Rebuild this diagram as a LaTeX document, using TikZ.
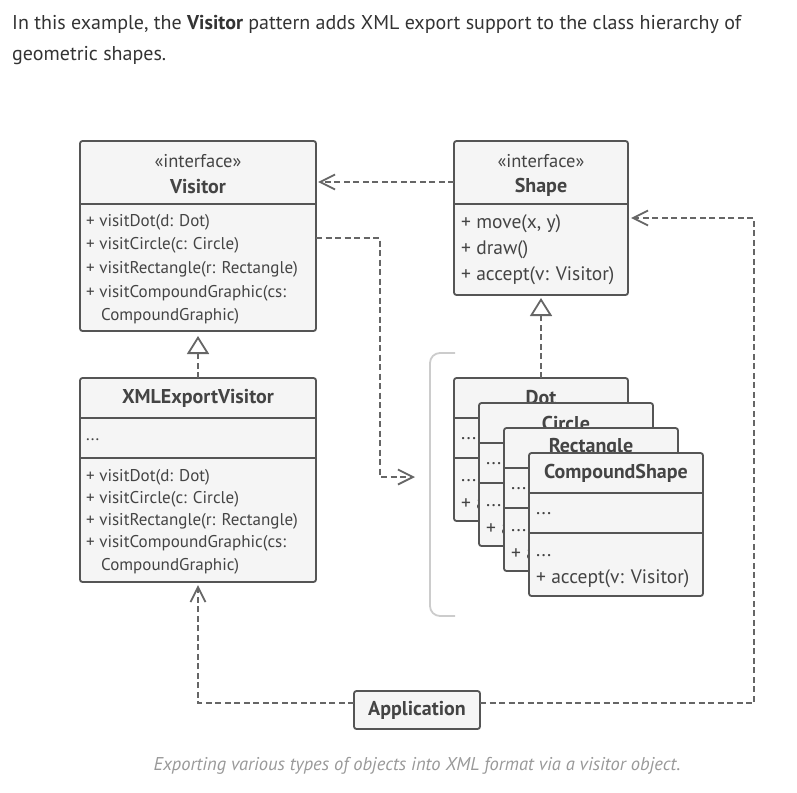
\documentclass[tikz,border=0pt]{standalone}
\usepackage{fontspec}
\setmainfont{PT Sans}
\usetikzlibrary{arrows.meta,calc}
\definecolor{bordc}{HTML}{555555}
\definecolor{fillc}{HTML}{F5F5F5}
\definecolor{txtc}{HTML}{444444}
\definecolor{linec}{HTML}{666666}
\definecolor{brackc}{HTML}{CCCCCC}
\definecolor{introc}{HTML}{333333}
\definecolor{capc}{HTML}{999999}
\tikzset{
 classbox/.style={draw=bordc, fill=fillc, line width=1.8pt, rounded corners=2.5pt, inner sep=0pt, outer sep=0pt, anchor=north west},
 divider/.style={draw=bordc, line width=1.8pt},
 member/.style={anchor=west, inner sep=0pt, text=txtc, font=\fontsize{17}{20}\selectfont},
 bigmember/.style={anchor=west, inner sep=0pt, text=txtc, font=\fontsize{19.5}{22}\selectfont},
 titletxt/.style={anchor=center, inner sep=0pt, text=txtc, font=\fontsize{20}{23}\selectfont\bfseries},
 stereo/.style={anchor=center, inner sep=0pt, text=txtc, font=\fontsize{18.5}{21}\selectfont},
 dep/.style={draw=linec, line width=1.8pt, dash pattern=on 6pt off 3.5pt, -{Straight Barb[length=15pt,width=15pt]}},
 realize/.style={draw=linec, line width=1.8pt, dash pattern=on 6pt off 3.5pt, -{Triangle[length=18pt,width=22pt,fill=white]}},
}
\newcommand\stackbox[5]{%
 \node[classbox, minimum width=174pt, minimum height=143pt] (#1) at (#2,#3) {};
 \draw[divider] ($(#1.north west)+(0,40)$) -- ($(#1.north east)+(0,40)$);
 \draw[divider] ($(#1.north west)+(0,80)$) -- ($(#1.north east)+(0,80)$);
 \node[titletxt] (#1t) at ($(#1.north)+(0,20)$) {#4};
 \node[bigmember] (#1a) at ($(#1.north west)+(7,61)$) {...};
 \node[bigmember] (#1b) at ($(#1.north west)+(7,103)$) {...};
 \node[bigmember] (#1c) at ($(#1.north west)+(7,126)$) {#5};
}
\begin{document}
\begin{tikzpicture}[x=1pt,y=-1pt]
\useasboundingbox (0,0) rectangle (797,792);
% intro text
\node[anchor=base west, inner sep=0pt, text=introc, font=\fontsize{20}{24}\selectfont] (intro1) at (12,30) {In this example, the \textbf{Visitor} pattern adds XML export support to the class hierarchy of};
\node[anchor=base west, inner sep=0pt, text=introc, font=\fontsize{20}{24}\selectfont] (intro2) at (12,60) {geometric shapes.};
% Visitor
\node[classbox, minimum width=236pt, minimum height=190pt] (visitor) at (80,141) {};
\draw[divider] ($(visitor.north west)+(0,63)$) -- ($(visitor.north east)+(0,63)$);
\node[stereo] (vst) at ($(visitor.north)+(0,20)$) {«interface»};
\node[titletxt] (vtt) at ($(visitor.north)+(0,46)$) {Visitor};
\node[member] (v1) at (86,222) {+ visitDot(d: Dot)};
\node[member] (v2) at (86,245) {+ visitCircle(c: Circle)};
\node[member] (v3) at (86,269) {+ visitRectangle(r: Rectangle)};
\node[member] (v4) at (86,293) {+ visitCompoundGraphic(cs:};
\node[member] (v5) at (101,316) {CompoundGraphic)};
% Shape
\node[classbox, minimum width=174pt, minimum height=154pt] (shape) at (454,141) {};
\draw[divider] ($(shape.north west)+(0,63)$) -- ($(shape.north east)+(0,63)$);
\node[stereo] (sst) at ($(shape.north)+(0,20)$) {«interface»};
\node[titletxt] (stt) at ($(shape.north)+(0,46)$) {Shape};
\node[bigmember] (s1) at (461,224) {+ move(x, y)};
\node[bigmember] (s2) at (461,250) {+ draw()};
\node[bigmember] (s3) at (461,276) {+ accept(v: Visitor)};
% XMLExportVisitor
\node[classbox, minimum width=236pt, minimum height=204pt] (xml) at (80,378) {};
\draw[divider] ($(xml.north west)+(0,40)$) -- ($(xml.north east)+(0,40)$);
\draw[divider] ($(xml.north west)+(0,80)$) -- ($(xml.north east)+(0,80)$);
\node[titletxt] (xtt) at ($(xml.north)+(0,20)$) {XMLExportVisitor};
\node[member] (x0) at (86,440) {...};
\node[member] (x1) at (86,477) {+ visitDot(d: Dot)};
\node[member] (x2) at (86,499) {+ visitCircle(c: Circle)};
\node[member] (x3) at (86,521) {+ visitRectangle(r: Rectangle)};
\node[member] (x4) at (86,543) {+ visitCompoundGraphic(cs:};
\node[member] (x5) at (101,566) {CompoundGraphic)};
% bracket
\draw[brackc, line width=1.8pt, rounded corners=10pt] (455,353) -- (430,353) -- (430,616) -- (455,616);
% stack
\stackbox{dot}{454}{378}{Dot}{+ a}
\stackbox{circle}{479}{403}{Circle}{+ a}
\stackbox{rect}{504}{428}{Rectangle}{+ a}
\stackbox{comp}{529}{453}{CompoundShape}{+ accept(v: Visitor)}
% Application
\node[classbox, minimum width=126pt, minimum height=38pt] (app) at (354,691) {};
\node[titletxt] (att) at (app.center) {Application};
% connectors
\coordinate (grp) at (415,477);
\coordinate (bend) at (380,300);
\coordinate (rbend) at (754,400);
\draw[dep, shorten >=2pt] ($(shape.north west)+(0,41)$) -- ($(visitor.north east)+(0,41)$);
\draw[dep] ($(visitor.north east)+(0,97)$) -| (bend) |- (grp);
\draw[realize, shorten >=5pt] (xml.north) -- (visitor.south);
\draw[realize, shorten >=3pt] (dot.north) -- (shape.south);
\draw[dep, shorten >=3pt] ($(app.north west)+(0,12)$) -| (xml.south);
\draw[dep, shorten >=3pt] ($(app.north east)+(0,12)$) -| (rbend) |- ($(shape.north east)+(0,77)$);
% caption
\node[anchor=base, inner sep=0pt, text=capc, font=\itshape\fontsize{18.5}{22}\selectfont] (cap) at (417,770) {Exporting various types of objects into XML format via a visitor object.};
\end{tikzpicture}
\end{document}
